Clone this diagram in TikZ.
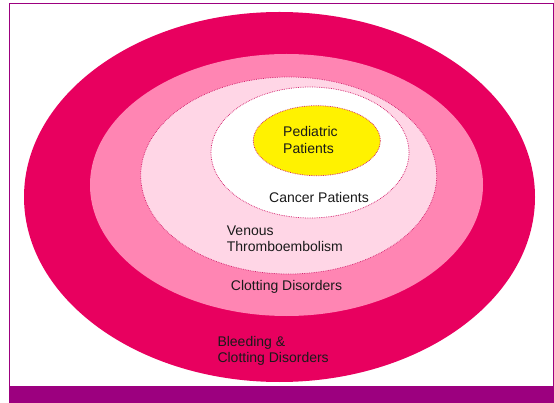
\documentclass[tikz,border=0pt]{standalone}
\usepackage{fontspec}
\setmainfont{Liberation Sans}
\usetikzlibrary{shapes.geometric}
\definecolor{crimson}{HTML}{E8005F}
\definecolor{midpink}{HTML}{FF85B3}
\definecolor{lightpink}{HTML}{FFD6E6}
\definecolor{barpurple}{HTML}{9C007F}
\definecolor{dotline}{HTML}{D4226E}
\definecolor{txt}{HTML}{1A1A1A}
\tikzset{
  ring/.style={ellipse, inner sep=0pt, outer sep=0pt},
  dotring/.style={ring, draw=dotline, densely dotted, line width=0.75pt},
  lbl/.style={font=\fontsize{14}{16.6}\selectfont, text=txt, align=left, anchor=west, inner sep=0pt}
}
\begin{document}
\begin{tikzpicture}[x=1pt,y=-1pt]
\useasboundingbox (0,0) rectangle (554,403);
\fill[white] (0,0) rectangle (554,403);
\draw[barpurple, line width=0.8pt] (9.5,3) rectangle (553,386);
\node[ring, fill=crimson, minimum width=511pt, minimum height=370pt] (outer) at (279.5,197) {};
\node[ring, fill=midpink, minimum width=393pt, minimum height=262pt] (clot) at (286.5,185) {};
\node[dotring, fill=lightpink, minimum width=296pt, minimum height=197pt] (vte) at (288.7,175.5) {};
\node[dotring, fill=white, minimum width=198pt, minimum height=131pt] (cancer) at (310,152.5) {};
\node[dotring, fill=yellow, minimum width=127pt, minimum height=70pt] (ped) at (316.8,140.7) {};
\fill[barpurple] (9,386) rectangle (554,403);
\node[lbl] (tped) at (283,140) {Pediatric\\Patients};
\node[lbl] (tcancer) at (269,197.3) {Cancer Patients};
\node[lbl] (tvte) at (226.7,238.7) {Venous\\Thromboembolism};
\node[lbl] (tclot) at (230.7,286.7) {Clotting Disorders};
\node[lbl] (tbleed) at (217.3,351) {Bleeding \&\\Clotting Disorders};
\end{tikzpicture}
\end{document}
